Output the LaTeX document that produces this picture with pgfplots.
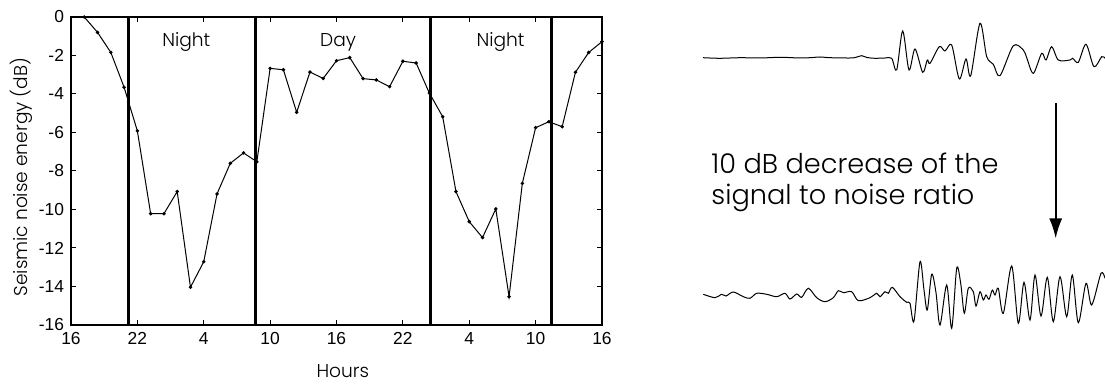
\documentclass[border=0pt]{standalone}
\usepackage{fontspec}
\setmainfont{Poppins}[UprightFont=* Light]
\newfontfamily\tickfont{Liberation Sans}
\usepackage{pgfplots}
\pgfplotsset{compat=1.18}
\usetikzlibrary{arrows.meta}

\pgfplotstableread{
t db
1.2 0
2.4 -0.8
3.6 -1.84
4.8 -3.65
6.0 -5.92
7.2 -10.22
8.4 -10.22
9.6 -9.07
10.8 -14.04
12.0 -12.71
13.2 -9.19
14.4 -7.6
15.6 -7.06
16.8 -7.52
18.0 -2.67
19.2 -2.74
20.4 -4.95
21.6 -2.86
22.8 -3.19
24.0 -2.27
25.2 -2.11
26.4 -3.2
27.6 -3.27
28.8 -3.62
30.0 -2.3
31.2 -2.39
32.4 -3.96
33.6 -5.18
34.8 -9.07
36.0 -10.63
37.2 -11.46
38.4 -9.97
39.6 -14.53
40.8 -8.64
42.0 -5.75
43.2 -5.44
44.4 -5.70
45.6 -2.87
46.8 -1.84
48.0 -1.28
}\noisedata

\begin{document}
\begin{tikzpicture}
\path[use as bounding box] (0,0) rectangle (552.5pt,-192pt);
\begin{axis}[
 at={(35.5pt,-162.5pt)}, anchor=south west,
 scale only axis, width=265.5pt, height=154pt,
 xmin=0, xmax=48, ymin=-16, ymax=0,
 xtick={0,6,...,48}, xticklabels={16,22,4,10,16,22,4,10,16},
 ytick={-16,-14,...,0}, yticklabels={-16,-14,-12,-10,-8,-6,-4,-2,0},
 tick align=inside, major tick length=2.5pt,
 ticklabel style={font=\tickfont\fontsize{8.7}{10}\selectfont},
 axis line style={line width=0.75pt},
 every tick/.style={line width=0.5pt, black},
 xlabel={Hours}, ylabel={Seismic noise energy (dB)},
 label style={font=\fontsize{9.3}{11}\selectfont},
 xlabel style={at={(axis description cs:0.512,-0.172)}, anchor=base},
 ylabel style={at={(axis description cs:-0.094,0.48)}, anchor=center},
 clip=false,
]
\addplot[black, line width=0.5pt, mark=*, mark size=0.6pt] table[x=t,y=db] {\noisedata};
\addplot[black, line width=1.5pt] coordinates {(5.18,-16) (5.18,0)};
\addplot[black, line width=1.5pt] coordinates {(16.67,-16) (16.67,0)};
\addplot[black, line width=1.5pt] coordinates {(32.5,-16) (32.5,0)};
\addplot[black, line width=1.5pt] coordinates {(43.4,-16) (43.4,0)};
\node[anchor=base, font=\fontsize{9.3}{11}\selectfont] at (axis cs:10.42,-1.54) {Night};
\node[anchor=base, font=\fontsize{9.3}{11}\selectfont] at (axis cs:24.14,-1.54) {Day};
\node[anchor=base, font=\fontsize{9.3}{11}\selectfont] at (axis cs:38.83,-1.54) {Night};
\end{axis}

\begin{axis}[
 at={(345pt,-192pt)}, anchor=south west,
 scale only axis, width=207.5pt, height=192pt,
 xmin=690, xmax=1105, ymin=0, ymax=384, y dir=reverse,
 axis lines=none, clip=false,
]
\addplot[black, line width=0.5pt, smooth, tension=0.5] coordinates {
(703,57.7) (720,58.3) (740,57.7) (760,58) (780,57.3) (800,58) (810,57.7) (820,57) (830,57.7)
(850,58) (856,57.3) (861.7,55.7) (867,57.5) (875,58.3) (885,58) (891.7,58.3)
(896.7,70) (902.7,31) (909,70) (915,49) (922.7,72.3) (927.3,60) (930,63.3) (939.3,46.7)
(945,51) (951.7,45) (959.3,79) (966,59) (970.7,75.7) (980,23.3) (986.7,56.7) (993.3,64.3)
(1000,75.7) (1013.3,45.7) (1023.3,50) (1026.7,57.7) (1033.3,73.3) (1041.7,53.3) (1046,60)
(1051.7,46.7) (1058.3,60) (1070,60) (1072.7,58.3) (1078.3,62.3) (1086,44.3) (1094,66.7)
(1101.7,56.7) (1105,58.3)
};
\addplot[black, line width=0.5pt, smooth, tension=0.5] coordinates {
(703.3,294.3) (715,297.7) (721.7,294.3) (726,296) (733.3,292) (743.3,296.7) (750,298.3)
(756.7,293.3) (766.7,294.3) (776.7,296.7) (785,293.3) (790,299) (796.7,294) (801.7,297.3)
(808.3,288.3) (816.7,297.7) (825,301.7) (833.3,297.7) (838.3,290.7) (843.3,292.7)
(851.7,291.7) (858.3,300.7) (870,297.7) (876.7,293.3) (880,296.7) (885,291.7) (888.3,293.3)
(892.3,287.3) (900,296.7) (906.7,302.3) (910,303.3) (914,321) (920,261.7) (924,290)
(927.3,310) (931.7,274.3) (936,292.7) (940,325) (946.7,285) (951.7,328.3) (956.7,268.3)
(960.7,283.3) (964.3,313.3) (968.3,288.3) (973.3,291.7) (976,306) (980,291.7) (983.3,300)
(986,295) (989,299.3) (992.3,290) (995,295) (998.3,288.3) (1003.3,313.3) (1011.7,266)
(1018.3,323.3) (1024,282.3) (1030,320) (1035,275) (1041,316) (1047.3,277.3) (1053.3,321.7)
(1060,276.7) (1066.7,316.7) (1072.3,275) (1078.3,322.7) (1086,283.3) (1091.7,305)
(1101,273.3) (1105,278.3)
};
\node[anchor=base west, inner sep=0pt, font=\fontsize{13.6}{16}\selectfont] at (axis cs:711,173.3) {10 dB decrease of the};
\node[anchor=base west, inner sep=0pt, font=\fontsize{13.6}{16}\selectfont] at (axis cs:711,205) {signal to noise ratio};
\draw[black, line width=1pt, -{Latex[length=10pt,width=6.5pt]}] (axis cs:1055.7,103) -- (axis cs:1055.7,238.5);
\end{axis}
\end{tikzpicture}
\end{document}
